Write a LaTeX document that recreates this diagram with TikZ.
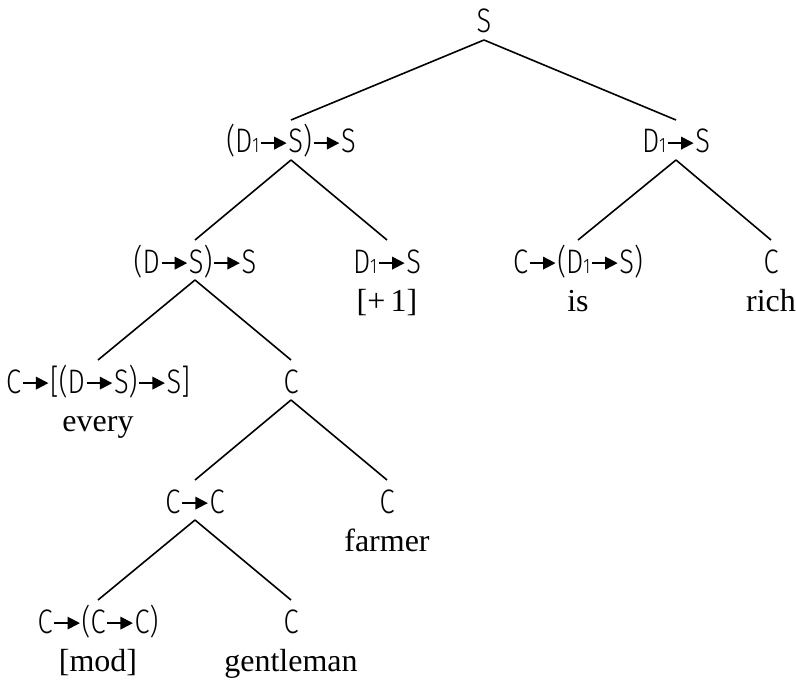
\documentclass[tikz,border=0pt]{standalone}
\usepackage{fontspec}
\setmainfont{Liberation Serif}
\newfontfamily\labfont{Fira Sans Light}[FakeStretch=0.8]
\newcommand\ar{\hspace{0.9pt}\tikz[baseline=0pt,x=1pt,y=1pt]{\fill[black] (0,4.3) rectangle (8,5.6); \fill[black] (6.6,1.7) -- (12.8,4.95) -- (6.6,8.2) -- cycle;}\hspace{0.9pt}}
\newcommand\one{{\fontsize{10.5}{10.5}\selectfont 1}}
\begin{document}
\begin{tikzpicture}[x=0.5pt,y=-0.5pt,
  lab/.style={font=\labfont\fontsize{17}{19}\selectfont, anchor=base, inner sep=0pt},
  word/.style={font=\fontsize{16}{18}\selectfont, anchor=base, inner sep=0pt},
  edge/.style={draw=black, line width=0.8pt}]
\useasboundingbox[fill=white] (0,0) rectangle (796,679);
\node[lab] (s) at (484,33) {S};
\node[lab] (a) at (291,153) {(D\one\ar S)\ar S};
\node[lab] (b) at (676,153) {D\one\ar S};
\node[lab] (aa) at (195,273) {(D\ar S)\ar S};
\node[lab] (ab) at (387,273) {D\one\ar S};
\node[word] (wab) at (387,311) {[+\,1]};
\node[lab] (ba) at (578,273) {C\ar(D\one\ar S)};
\node[word] (wba) at (578,311) {is};
\node[lab] (bb) at (771,273) {C};
\node[word] (wbb) at (771,311) {rich};
\node[lab] (aaa) at (98,393) {C\ar[(D\ar S)\ar S]};
\node[word] (waaa) at (98,431) {every};
\node[lab] (aab) at (291,393) {C};
\node[lab] (aaba) at (195,513) {C\ar C};
\node[lab] (aabb) at (387,513) {C};
\node[word] (waabb) at (387,551) {farmer};
\node[lab] (aabaa) at (98,633) {C\ar(C\ar C)};
\node[word] (waabaa) at (98,671) {[mod]};
\node[lab] (aabab) at (291,633) {C};
\node[word] (waabab) at (291,671) {gentleman};
\foreach \p/\c in {s/a, s/b, a/aa, a/ab, b/ba, b/bb, aa/aaa, aa/aab, aab/aaba, aab/aabb, aaba/aabaa, aaba/aabab}
  \draw[edge] ([yshift=-3.5pt]\p.base) -- ([yshift=16.5pt]\c.base);
\end{tikzpicture}
\end{document}
